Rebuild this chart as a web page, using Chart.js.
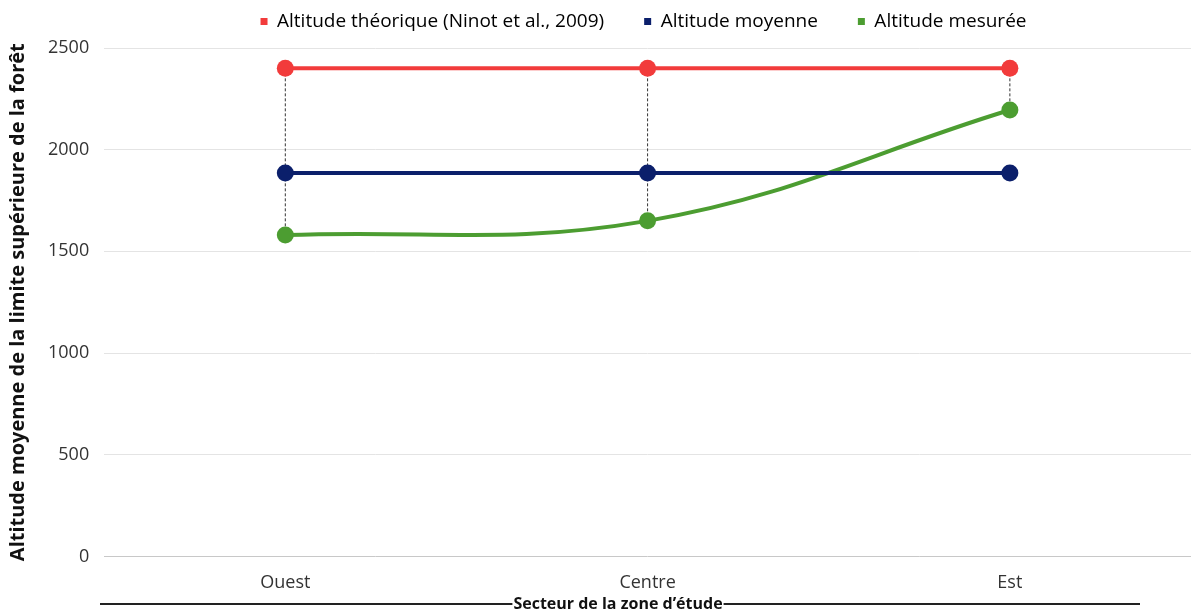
<!DOCTYPE html>
<html lang="fr">
<head>
<meta charset="utf-8">
<title>Altitude de la limite supérieure de la forêt</title>
<script src="https://cdn.jsdelivr.net/npm/chart.js@4.4.1/dist/chart.umd.min.js"></script>
<style>
    html, body { margin: 0; padding: 0; background: #ffffff; }
    #wrap { width: 1191px; height: 611px; position: relative; }
</style>
</head>
<body>
<div id="wrap"><canvas id="altitude-chart"></canvas></div>
<script>
const sectors = ["Ouest", "Centre", "Est"];
const altitudeTheorique = [2400, 2400, 2400];
const altitudeMoyenne = [1885, 1885, 1885];
const altitudeMesuree = [1580, 1650, 2195];
const yTicks = [0, 500, 1000, 1500, 2000, 2500];

const FONT = "'Open Sans', 'Noto Sans', sans-serif";
const RED = "#f23b3b";
const NAVY = "#0b1f6b";
const GREEN = "#4c9d31";

const LEGEND_GAP = 40;
const LEGEND_SHIFT_X = 48;
const LEGEND_TRIM = 21;
const LEGEND_RAISE = 28;

// vertical dashed lines between theoretical and measured altitude
const dropLines = {
    id: "dropLines",
    beforeDatasetsDraw(chart) {
        const { ctx, scales } = chart;
        ctx.save();
        ctx.strokeStyle = "#333333";
        ctx.lineWidth = 1;
        ctx.setLineDash([3, 2]);
        sectors.forEach((_, i) => {
            const x = scales.x.getPixelForValue(i);
            ctx.beginPath();
            ctx.moveTo(x, scales.y.getPixelForValue(altitudeTheorique[i]));
            ctx.lineTo(x, scales.y.getPixelForValue(altitudeMesuree[i]));
            ctx.stroke();
        });
        ctx.restore();
    },
};

// wide gaps between legend items without the matching vertical padding,
// and the whole legend centred over the plot
const legendPlacement = {
    id: "legendPlacement",
    beforeLayout(chart) {
        const lg = chart.legend;
        if (lg._trimmed) return;
        const baseFit = lg.fit;
        lg.fit = function () {
            baseFit.call(this);
            this.height -= LEGEND_TRIM;
        };
        lg._trimmed = true;
    },
    afterLayout(chart) {
        const lg = chart.legend;
        lg.left += LEGEND_SHIFT_X;
        lg.right += LEGEND_SHIFT_X;
        lg.top -= LEGEND_RAISE;
        lg.bottom += 10;
    },
};

// x-axis title flanked by horizontal rules
const xTitle = {
    id: "xTitle",
    afterDraw(chart) {
        const { ctx } = chart;
        const label = "Secteur de la zone d\u2019étude";
        const cx = 618;
        const y = 604;
        ctx.save();
        ctx.font = `bold 16px ${FONT}`;
        ctx.fillStyle = "#111111";
        ctx.textAlign = "center";
        ctx.textBaseline = "middle";
        const w = ctx.measureText(label).width;
        ctx.fillText(label, cx, y);
        ctx.strokeStyle = "#222222";
        ctx.lineWidth = 2;
        ctx.beginPath();
        ctx.moveTo(100, y);
        ctx.lineTo(cx - w / 2 - 1, y);
        ctx.moveTo(cx + w / 2 + 1, y);
        ctx.lineTo(1140, y);
        ctx.stroke();
        ctx.restore();
    },
};

function lineDataset(label, data, color, smooth) {
    return {
        label,
        data,
        borderColor: color,
        backgroundColor: color,
        pointBackgroundColor: color,
        pointBorderColor: color,
        borderWidth: 4,
        pointRadius: 8.5,
        pointBorderWidth: 0,
        tension: smooth ? 0.4 : 0,
        fill: false,
        clip: false,
    };
}

new Chart(document.getElementById("altitude-chart"), {
    type: "line",
    data: {
        labels: sectors,
        datasets: [
            lineDataset("Altitude théorique (Ninot et al., 2009)", altitudeTheorique, RED, false),
            lineDataset("Altitude moyenne", altitudeMoyenne, NAVY, false),
            lineDataset("Altitude mesurée", altitudeMesuree, GREEN, true),
        ],
    },
    options: {
        responsive: true,
        maintainAspectRatio: false,
        animation: false,
        events: [],
        layout: { autoPadding: false, padding: { left: 0, right: 0, top: 0, bottom: 9 } },
        plugins: {
            legend: {
                position: "top",
                labels: {
                    color: "#222222",
                    font: { family: FONT, size: 19 },
                    boxWidth: 7,
                    boxHeight: 7,
                    padding: LEGEND_GAP,
                    generateLabels(chart) {
                        return chart.data.datasets.map((ds, i) => ({
                            text: ds.label,
                            fillStyle: ds.borderColor,
                            strokeStyle: ds.borderColor,
                            lineWidth: 0,
                            datasetIndex: i,
                        }));
                    },
                },
            },
            tooltip: { enabled: false },
        },
        scales: {
            x: {
                offset: true,
                grid: { display: false },
                border: { display: false },
                ticks: {
                    color: "#333333",
                    font: { family: FONT, size: 18 },
                    padding: 8,
                },
            },
            y: {
                min: 0,
                max: 2500,
                afterBuildTicks(axis) {
                    axis.ticks = yTicks.map((v) => ({ value: v }));
                },
                grid: {
                    color: (c) => (c.tick && c.tick.value === 0 ? "#c8c8c8" : "#e4e4e4"),
                    lineWidth: 1,
                    drawTicks: false,
                },
                border: { display: false },
                ticks: {
                    color: "#333333",
                    font: { family: FONT, size: 18 },
                    padding: 15,
                    callback: (v) => String(v),
                },
                title: {
                    display: true,
                    text: "Altitude moyenne de la limite supérieure de la forêt",
                    color: "#111111",
                    font: { family: FONT, size: 20, weight: "bold" },
                    padding: { top: 6, bottom: 3 },
                },
            },
        },
    },
    plugins: [dropLines, legendPlacement, xTitle],
});
</script>
</body>
</html>
